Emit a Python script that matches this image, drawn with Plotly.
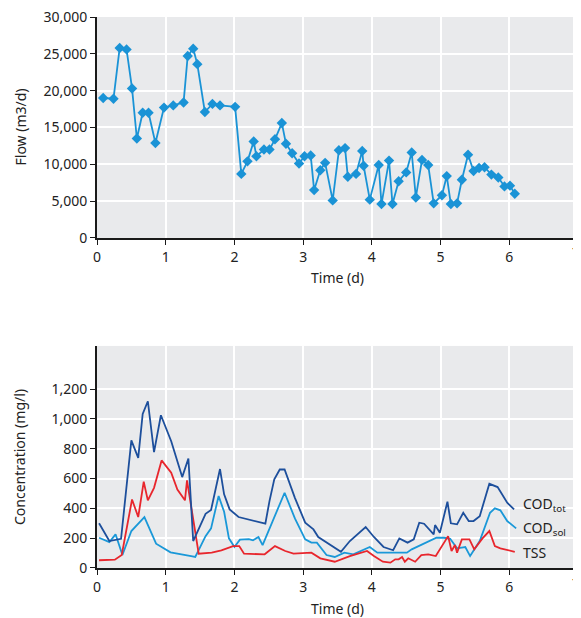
import plotly.graph_objects as go
from plotly.subplots import make_subplots

# ---- Flow data ----
flow_t = [0.09,0.24,0.33,0.43,0.51,0.58,0.665,0.75,0.85,0.975,1.11,1.26,1.32,1.40,1.46,1.57,1.68,1.79,2.01,2.10,
          2.19,2.28,2.32,2.43,2.51,2.59,2.69,2.75,2.84,2.94,3.02,3.11,3.16,3.25,3.32,3.43,3.52,3.61,3.65,3.77,
          3.86,3.88,3.97,4.10,4.14,4.25,4.30,4.39,4.50,4.58,4.64,4.73,4.82,4.90,5.02,5.09,5.15,5.24,5.31,5.40,
          5.48,5.56,5.64,5.74,5.84,5.93,6.01,6.08]
flow = [19000,18900,25800,25600,20300,13500,17000,17000,12900,17700,18000,18400,24700,25700,23600,17100,18200,18000,17800,8700,
        10400,13100,11100,12000,12000,13400,15600,12800,11500,10100,11100,11200,6500,9200,10200,5100,11900,12200,8300,8700,
        11800,9800,5200,9900,4600,10500,4600,7700,8900,11600,5500,10600,9900,4700,5800,8400,4600,4700,7900,11300,
        9100,9500,9600,8600,8200,7000,7100,6000]

# ---- Concentration data ----
codtot_t = [0.03,0.18,0.35,0.50,0.60,0.665,0.74,0.83,0.93,1.08,1.24,1.33,1.40,1.58,1.66,1.79,1.85,1.93,2.06,2.45,
            2.51,2.58,2.66,2.73,2.88,3.03,3.15,3.22,3.55,3.68,3.91,4.03,4.17,4.31,4.40,4.52,4.61,4.69,4.76,4.90,
            4.92,4.99,5.10,5.15,5.24,5.33,5.41,5.48,5.57,5.71,5.83,5.97,6.07]
codtot = [300,181,196,856,739,1034,1119,777,1025,851,610,735,181,364,389,664,494,393,342,297,
          449,595,661,661,471,304,259,208,109,181,275,208,141,119,199,170,192,304,297,226,
          288,237,445,300,293,371,315,315,348,565,543,438,393]

codsol_t = [0.03,0.18,0.27,0.37,0.50,0.69,0.86,1.07,1.37,1.43,1.58,1.66,1.77,1.85,1.92,2.00,2.08,2.21,2.27,2.35,
            2.41,2.73,2.88,3.03,3.12,3.20,3.34,3.46,3.60,3.73,3.97,4.08,4.51,4.58,4.94,5.05,5.14,5.24,5.36,5.43,
            5.57,5.72,5.79,5.87,5.97,6.10]
codsol = [203,174,226,87,248,342,163,105,80,74,214,266,483,377,199,141,190,194,186,208,
          154,505,333,192,170,170,87,74,103,92,141,103,103,125,203,203,196,132,141,80,
          181,371,400,387,315,266]

tss_t = [0.03,0.26,0.36,0.51,0.60,0.68,0.74,0.83,0.94,1.08,1.17,1.28,1.31,1.48,1.67,1.81,1.98,2.07,2.14,2.44,
         2.59,2.74,2.86,3.12,3.25,3.46,3.68,3.93,4.03,4.16,4.27,4.34,4.39,4.44,4.48,4.53,4.63,4.72,4.82,4.93,
         5.11,5.16,5.21,5.24,5.31,5.42,5.49,5.61,5.71,5.79,5.87,6.08]
tss = [52,56,87,460,342,579,454,538,722,639,527,454,588,96,103,119,147,147,96,92,
       147,114,96,103,65,42,80,114,80,42,36,58,58,74,42,65,42,87,92,80,
       214,114,154,103,192,192,125,199,248,147,132,109]

x_ticks = [0, 1, 2, 3, 4, 5, 6, 7]
x_tick_text = ["0", "1", "2", "3", "4", "5", "6", ""]
x_last_label = "7"
flow_ticks = [0, 5000, 10000, 15000, 20000, 25000, 30000]
conc_ticks = [0, 200, 400, 600, 800, 1000, 1200]

legend_labels = ["COD<sub>tot</sub>", "COD<sub>sol</sub>", "TSS"]
legend_y = [425, 262, 107]

C_FLOW = "#1a93d6"
C_TOT = "#1d4f9c"
C_SOL = "#1a98d8"
C_TSS = "#e8262d"
FONT = "Noto Sans"
TXT = "#222222"
BG = "#e9eaec"

fig = make_subplots(rows=2, cols=1)

fig.add_trace(go.Scatter(x=flow_t, y=flow, mode="lines+markers",
                         line=dict(color=C_FLOW, width=1.8),
                         marker=dict(symbol="diamond", size=8, color=C_FLOW),
                         showlegend=False, cliponaxis=False), row=1, col=1)

fig.add_trace(go.Scatter(x=codsol_t, y=codsol, mode="lines", line=dict(color=C_SOL, width=1.8),
                         showlegend=False), row=2, col=1)
fig.add_trace(go.Scatter(x=tss_t, y=tss, mode="lines", line=dict(color=C_TSS, width=1.8),
                         showlegend=False), row=2, col=1)
fig.add_trace(go.Scatter(x=codtot_t, y=codtot, mode="lines", line=dict(color=C_TOT, width=1.8),
                         showlegend=False), row=2, col=1)

for lab, yy in zip(legend_labels, legend_y):
    fig.add_annotation(x=6.17, y=yy, xref="x2", yref="y2", text=lab, showarrow=False,
                       xanchor="left", yanchor="middle",
                       font=dict(family=FONT, size=14, color=TXT))

TOP_DOM = [0.599, 1.0]
BOT_DOM = [0.0, 0.403]

title_font = dict(family=FONT, size=14, color=TXT)
# x-axis titles and the last x tick label (at the right edge)
for ybase in (TOP_DOM[0], BOT_DOM[0]):
    fig.add_annotation(x=0.5, y=ybase, xref="paper", yref="paper", text="Time (d)",
                       showarrow=False, xanchor="center", yanchor="middle", yshift=-40,
                       font=title_font)
    fig.add_annotation(x=1.0, y=ybase, xref="paper", yref="paper", text=x_last_label,
                       showarrow=False, xanchor="right", yanchor="middle", yshift=-15,
                       xshift=3, borderpad=0, font=title_font)
# y-axis titles
fig.add_annotation(x=0, y=(TOP_DOM[0] + TOP_DOM[1]) / 2, xref="paper", yref="paper",
                   text="Flow (m3/d)", textangle=-90, showarrow=False,
                   xanchor="center", yanchor="middle", xshift=-77, font=title_font)
fig.add_annotation(x=0, y=(BOT_DOM[0] + BOT_DOM[1]) / 2, xref="paper", yref="paper",
                   text="Concentration (mg/l)", textangle=-90, showarrow=False,
                   xanchor="center", yanchor="middle", xshift=-77, font=title_font)

axis_common = dict(showline=True, linecolor="#1a1a1a", linewidth=2,
                   ticks="outside", ticklen=5, tickcolor="#1a1a1a", tickwidth=1,
                   showgrid=True, gridcolor="white", gridwidth=2,
                   zeroline=False, automargin=False, ticklabeloverflow="allow",
                   tickfont=dict(family=FONT, size=14, color=TXT))

fig.update_xaxes(**axis_common, range=[0, 7.0001], tickvals=x_ticks, ticktext=x_tick_text)
fig.update_yaxes(**axis_common)

fig.update_yaxes(row=1, col=1, range=[0, 30000], tickvals=flow_ticks, tickformat=",d")
fig.update_yaxes(row=2, col=1, range=[0, 1490], tickvals=conc_ticks, tickformat=",d")

fig.update_layout(
    width=573, height=610,
    margin=dict(l=89, r=3, t=9, b=50),
    paper_bgcolor="white", plot_bgcolor=BG,
    separators=".,",
    xaxis=dict(domain=[0, 1]),
    yaxis=dict(domain=TOP_DOM),
    xaxis2=dict(domain=[0, 1]),
    yaxis2=dict(domain=BOT_DOM),
)

fig.write_html("out.html")
